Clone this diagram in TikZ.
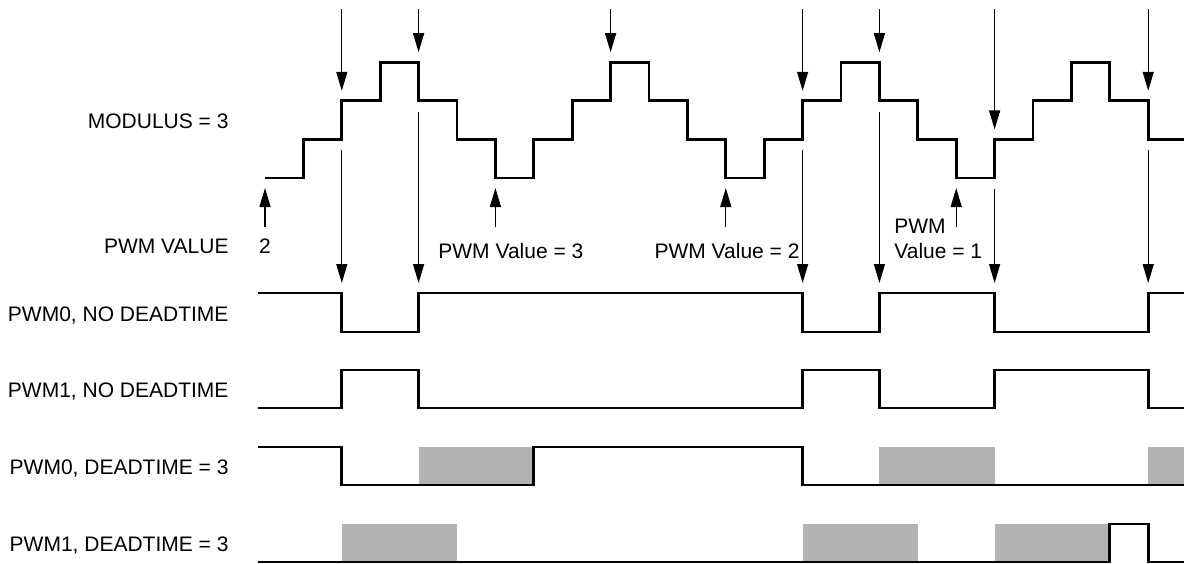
\documentclass[tikz,border=0pt]{standalone}
\usepackage{fontspec}
\setmainfont{Liberation Sans}
\usetikzlibrary{arrows.meta}

\begin{document}
\begin{tikzpicture}[x=19.2pt, y=-0.5pt,
    wave/.style={line width=1.4pt, line join=miter},
    trig/.style={line width=0.65pt, -{Triangle[width=5.5pt, length=9.5pt]}},
    dtbox/.style={fill=black!30, draw=none},
    lbl/.style={font=\fontsize{10.5}{12.5}\selectfont, inner sep=0pt}]
  \useasboundingbox (-6.901,0) rectangle (23.932,563);

  % Counter staircase (one unit = one count)
  \draw[wave] (0,178)
    \foreach \k/\l in {1/1,2/2,3/3,4/2,5/1,6/0,7/1,8/2,9/3,10/2,11/1,12/0,
                       13/1,14/2,15/3,16/2,17/1,18/0,19/1,20/2,21/3,22/2,23/1}
      { -| (\k,{178-38.6*\l}) }
    -- (23.932,139.4);

  % Compare events from the top
  \foreach \k/\l in {2/2,4/3,9/3,14/2,16/3,19/1,23/2}
    \draw[trig] (\k,9) -- (\k,{178-38.6*\l-10});
  % Compare events down to the outputs
  \foreach \k/\l in {2/1,4/2,14/1,16/2,19/0,23/1}
    \draw[trig] (\k,{178-38.6*\l+11}) -- (\k,283);
  % PWM value loads
  \foreach \k in {0,6,12,18}
    \draw[trig] (\k,227) -- (\k,188);

  % Labels
  \node[lbl, anchor=base east] (modlbl) at (-0.94,128.7) {MODULUS = 3};
  \node[lbl, anchor=base east] (vallbl) at (-0.94,253) {PWM VALUE};
  \node[lbl, anchor=base] (valtwo) at (0,253) {2};
  \node[lbl, anchor=base west] (valthree) at (4.505,258) {PWM Value = 3};
  \node[lbl, anchor=base east] (valtwob) at (13.93,258) {PWM Value = 2};
  \node[lbl, anchor=base west, align=left] (valone) at (16.38,258) {PWM\\Value = 1};

  \node[lbl, anchor=base east] (pzero) at (-0.94,321) {PWM0, NO DEADTIME};
  \node[lbl, anchor=base east] (pone) at (-0.94,397) {PWM1, NO DEADTIME};
  \node[lbl, anchor=base east] (pzerodt) at (-0.94,474) {PWM0, DEADTIME = 3};
  \node[lbl, anchor=base east] (ponedt) at (-0.94,551) {PWM1, DEADTIME = 3};

  % Deadtime shading
  \foreach \a/\b in {4/7,16/19,23/23.932}
    \fill[dtbox] (\a,447) rectangle (\b,485);
  \foreach \a/\b in {2/5,14/17,19/22}
    \fill[dtbox] (\a,524) rectangle (\b,562);

  % Outputs without deadtime
  \draw[wave] (-0.18,293) -| (2,332) -| (4,293) -| (14,332) -| (16,293)
    -| (19,332) -| (23,293) -- (23.932,293);
  \draw[wave] (-0.18,408) -| (2,370) -| (4,408) -| (14,370) -| (16,408)
    -| (19,370) -| (23,408) -- (23.932,408);

  % Outputs with deadtime = 3
  \draw[wave] (-0.18,447) -| (2,485) -| (7,447) -| (14,485) -- (23.932,485);
  \draw[wave] (-0.18,562) -| (22,524) -| (23,562) -- (23.932,562);
\end{tikzpicture}
\end{document}
